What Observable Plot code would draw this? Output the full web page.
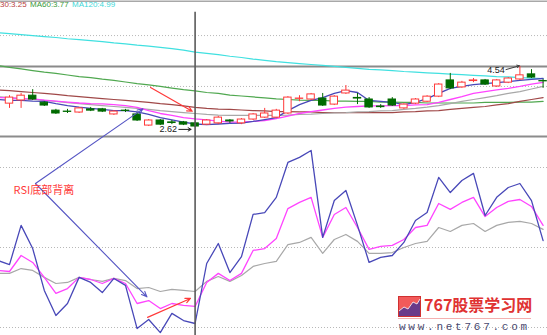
<!DOCTYPE html>
<html><head><meta charset="utf-8">
<script src="https://cdn.jsdelivr.net/npm/d3@7"></script>
<script src="https://cdn.jsdelivr.net/npm/@observablehq/plot@0.6"></script>
<style>
body{margin:0;background:#fff;}
#wrap{position:relative;width:547px;height:335px;overflow:hidden;background:#fff;font-family:"Liberation Sans",Arial,sans-serif;}
#top,#bot{position:absolute;left:0;}
#top{top:0;} #bot{top:137px;}
.lg{position:absolute;top:0px;font-size:8px;line-height:10px;white-space:nowrap;}
.wm{position:absolute;white-space:nowrap;}
</style></head><body>
<div id="wrap">
<div id="top"></div>
<div id="bot"></div>
<span class="lg" style="left:0;color:#b84040">30:3.25</span>
<span class="lg" style="left:30px;color:#3a9a3a">MA60:3.77</span>
<span class="lg" style="left:72px;color:#40d8d8">MA120:4.99</span>
<div class="wm" style="left:398px;top:296px;width:23px;height:21px">
<svg width="23" height="21"><rect x="0.5" y="0.5" width="22" height="20" fill="#f25a5a" stroke="#d03030"/><polygon points="1,20 1,15 6,11 10,13 15,6 19,8 22,3 22,20" fill="#6a3a8a"/><polyline points="1,15 6,11 10,13 15,6 19,8 22,3" fill="none" stroke="#ffffff" stroke-width="0.8"/></svg></div>
<span class="wm" style="left:424px;top:292px;font:bold 16px 'Noto Sans CJK SC','Liberation Serif',serif;color:#e03232">767股票学习网</span>
<div class="wm" style="left:398px;top:318px;width:133px;height:1px;background:#f4b0b0"></div>
<span class="wm" style="left:399px;top:321px;font:11px 'Liberation Mono',monospace;letter-spacing:2.75px;color:#4a4a70">www.net767.com</span>
</div>
<script>
// ---------- data ----------
// candle index 0..46 ; indicator lines index -1..46
const candleOpen  = [3.37,3.47,3.62,3.40,3.15,3.12,3.09,3.19,3.19,3.03,3.15,3.03,2.68,2.84,2.78,2.78,2.75,2.71,2.75,2.84,2.75,2.87,2.93,2.93,3.06,3.52,3.50,3.53,3.34,3.69,3.55,3.50,3.28,3.50,3.22,3.37,3.43,3.59,4.10,3.88,4.08,4.10,3.91,4.03,4.13,4.29,4.08];
const candleHigh  = [3.62,3.69,3.81,3.43,3.19,3.19,3.25,3.25,3.22,3.15,3.19,3.09,2.87,2.87,2.84,2.81,2.78,2.87,2.97,2.87,2.90,3.06,3.22,3.19,3.59,3.62,3.69,3.69,3.62,3.94,3.69,3.56,3.34,3.56,3.37,3.53,3.62,4.00,4.32,4.07,4.16,4.13,4.13,4.19,4.54,4.44,4.13];
const candleLow   = [3.22,3.22,3.47,3.28,3.03,3.06,3.06,3.12,3.09,3.00,3.09,2.81,2.65,2.68,2.71,2.68,2.62,2.68,2.71,2.75,2.71,2.84,2.90,2.90,3.03,3.43,3.47,3.28,3.31,3.66,3.34,3.22,3.22,3.28,3.19,3.34,3.40,3.56,3.81,3.85,4.03,3.94,3.88,4.00,4.10,4.16,3.85];
const candleClose = [3.56,3.62,3.50,3.31,3.06,3.11,3.22,3.15,3.12,3.12,3.14,2.84,2.84,2.71,2.76,2.71,2.65,2.84,2.93,2.81,2.87,3.03,3.06,3.15,3.56,3.53,3.66,3.31,3.59,3.78,3.53,3.25,3.26,3.31,3.34,3.50,3.59,3.97,3.85,4.03,4.10,3.97,4.10,4.16,4.26,4.19,4.07];

const ma5   = [3.50,3.47,3.47,3.45,3.44,3.37,3.31,3.26,3.22,3.19,3.15,3.15,3.11,3.03,2.93,2.86,2.79,2.73,2.71,2.73,2.75,2.76,2.81,2.87,2.93,3.15,3.34,3.47,3.56,3.69,3.78,3.72,3.47,3.44,3.41,3.34,3.41,3.53,3.69,3.85,3.91,3.97,4.00,4.03,4.06,4.10,4.13,4.16];
const ma10  = [3.56,3.55,3.53,3.52,3.48,3.45,3.42,3.39,3.37,3.36,3.34,3.31,3.25,3.15,3.06,3.00,2.93,2.89,2.86,2.82,2.79,2.79,2.81,2.84,2.90,2.98,3.06,3.12,3.17,3.22,3.26,3.28,3.30,3.30,3.31,3.31,3.33,3.34,3.41,3.50,3.59,3.69,3.75,3.80,3.85,3.91,3.98,4.04];
const ma20  = [3.59,3.56,3.53,3.50,3.47,3.44,3.40,3.37,3.34,3.31,3.28,3.25,3.22,3.19,3.15,3.12,3.09,3.06,3.03,3.01,3.00,3.00,3.00,3.00,3.00,3.01,3.03,3.04,3.06,3.08,3.09,3.11,3.12,3.14,3.15,3.19,3.22,3.26,3.31,3.37,3.44,3.50,3.56,3.62,3.69,3.75,3.83,3.91];
const ma30  = [3.80,3.78,3.75,3.72,3.69,3.66,3.62,3.59,3.56,3.53,3.50,3.47,3.44,3.41,3.37,3.34,3.30,3.25,3.22,3.20,3.19,3.17,3.15,3.14,3.12,3.12,3.11,3.11,3.09,3.09,3.09,3.09,3.09,3.09,3.09,3.11,3.12,3.14,3.15,3.19,3.22,3.25,3.28,3.33,3.37,3.44,3.50,3.56];
const ma60  = [4.57,4.51,4.46,4.41,4.36,4.32,4.27,4.22,4.19,4.14,4.10,4.05,4.00,3.96,3.91,3.86,3.81,3.77,3.72,3.69,3.64,3.61,3.58,3.55,3.52,3.50,3.48,3.47,3.47,3.45,3.45,3.44,3.44,3.42,3.42,3.41,3.41,3.39,3.39,3.39,3.39,3.39,3.41,3.41,3.41,3.42,3.42,3.44];
const ma120 = [5.60,5.57,5.54,5.51,5.48,5.45,5.41,5.38,5.35,5.32,5.28,5.25,5.21,5.18,5.14,5.10,5.05,4.99,4.95,4.91,4.86,4.82,4.77,4.73,4.69,4.66,4.63,4.60,4.57,4.54,4.51,4.48,4.45,4.43,4.41,4.38,4.36,4.34,4.32,4.30,4.28,4.26,4.24,4.22,4.21,4.19,4.17,4.16];

const rsi6  = [45.1,43.6,58.3,49.6,33.9,24.5,29.0,38.8,36.9,33.1,38.4,35.8,19.6,23.0,18.1,25.3,22.6,21.5,44.0,51.5,40.6,46.6,62.4,63.1,68.8,81.9,83.8,86.4,53.8,67.6,71.4,58.3,44.4,46.3,47.0,51.9,60.1,63.1,76.3,70.6,75.1,77.8,62.0,68.8,72.5,74.0,67.6,52.6];
const rsi12 = [41.4,41.0,47.0,44.4,38.8,32.8,34.6,38.8,38.0,36.5,38.4,36.5,29.0,30.1,27.1,29.0,28.3,27.9,36.9,40.3,37.6,40.3,48.9,49.6,53.4,64.6,66.9,68.8,53.8,62.4,65.0,57.5,49.3,50.4,50.8,53.0,57.5,58.3,66.5,64.3,66.9,68.8,61.6,65.0,67.3,68.0,65.4,58.3];
const rsi24 = [40.3,40.3,42.1,41.4,38.8,36.5,36.9,38.8,38.0,37.3,38.4,37.6,34.6,35.0,33.5,34.3,33.9,33.5,37.3,39.1,37.3,39.5,42.9,44.0,44.8,51.1,51.9,53.8,47.8,53.0,54.9,52.3,47.8,47.8,48.1,50.0,51.5,52.3,57.5,56.0,58.3,59.0,56.0,58.3,59.4,59.8,59.0,56.8];

const cursorIndex = 16;
const highLine = 4.54;
const priceGrid = [5.51, 3.91];
const rsiGrid = [80, 50, 20];
const lowLabel = "2.62", highLabel = "4.54";
const annotationText = "RSI底部背离";

// ---------- scales ----------
const W = 547, HT = 137, HB = 198;
const xDomain = [-0.776, 46.38];
const priceDomain = [2.305, 6.613];
const rsiDomain = [17.0, 91.25];

const candles = candleOpen.map((o, i) => ({i, open: o, high: candleHigh[i], low: candleLow[i], close: candleClose[i], up: candleClose[i] >= o}));
const lineIdx = d3.range(-1, 47);
const series = (arr, name) => arr.map((v, k) => ({i: lineIdx[k], v, name}));
const RED = "#ff3a3a", GREEN = "#006a00";

const topPlot = Plot.plot({
  width: W, height: HT,
  marginTop: 0, marginBottom: 0, marginLeft: 0, marginRight: 0,
  x: {domain: xDomain, axis: null},
  y: {domain: priceDomain, axis: null},
  style: {background: "white", overflow: "visible"},
  marks: [
    Plot.ruleY(priceGrid, {stroke: "#b8b8b8", strokeDasharray: "1,2"}),
    Plot.ruleY([priceDomain[1]], {stroke: "#a8a8a8", strokeWidth: 1.5, dy: 0.8}),
    Plot.ruleY([priceDomain[0]], {stroke: "#8c8c8c", strokeWidth: 2, dy: -1}),
    Plot.ruleY([highLine], {stroke: "#8a8a8a", strokeWidth: 2}),
    Plot.line(series(ma120), {x: "i", y: "v", stroke: "#40e0e0", strokeWidth: 1.2}),
    Plot.line(series(ma60), {x: "i", y: "v", stroke: "#50a850", strokeWidth: 1.2}),
    Plot.line(series(ma30), {x: "i", y: "v", stroke: "#a04848", strokeWidth: 1.2}),
    Plot.line(series(ma20), {x: "i", y: "v", stroke: "#a8a8a8", strokeWidth: 1.2}),
    Plot.line(series(ma10), {x: "i", y: "v", stroke: "#ff44ff", strokeWidth: 1.3}),
    Plot.line(series(ma5), {x: "i", y: "v", stroke: "#4848b8", strokeWidth: 1.3}),
    Plot.ruleX(candles, {x: "i", y1: "low", y2: "high", stroke: d => d.up ? RED : GREEN, strokeWidth: 1}),
    Plot.rect(candles, {
      x1: d => d.i - 0.32, x2: d => d.i + 0.32,
      y1: d => Math.min(d.open, d.close), y2: d => Math.max(d.open, d.close),
      fill: d => d.up ? "white" : GREEN, stroke: d => d.up ? RED : GREEN, strokeWidth: 1
    }),
    Plot.ruleX([cursorIndex], {y1: priceDomain[0], y2: 6.24, stroke: "#5a5a5a", strokeWidth: 1.6}),
    Plot.arrow([{x1: 12.16, y1: 3.88, x2: 15.75, y2: 3.13}], {x1: "x1", y1: "y1", x2: "x2", y2: "y2", stroke: RED, strokeWidth: 1.2, headLength: 7, headAngle: 50}),
    Plot.arrow([{x1: 14.6, y1: 2.56, x2: 15.65, y2: 2.56}], {x1: "x1", y1: "y1", x2: "x2", y2: "y2", stroke: "#202020", strokeWidth: 1, headLength: 5, headAngle: 60}),
    Plot.text([{i: 14.45, v: 2.56}], {x: "i", y: "v", text: () => lowLabel, textAnchor: "end", fontSize: 9, fill: "#202020", fontFamily: "Liberation Sans"}),
    Plot.arrow([{x1: 42.8, y1: 4.44, x2: 43.95, y2: 4.56}], {x1: "x1", y1: "y1", x2: "x2", y2: "y2", stroke: "#404040", strokeWidth: 1, headLength: 4, headAngle: 60}),
    Plot.text([{i: 42.7, v: 4.41}], {x: "i", y: "v", text: () => highLabel, textAnchor: "end", fontSize: 9, fill: "#202020", fontFamily: "Liberation Sans"})
  ]
});
document.getElementById("top").appendChild(topPlot);

const botPlot = Plot.plot({
  width: W, height: HB,
  marginTop: 0, marginBottom: 0, marginLeft: 0, marginRight: 0,
  x: {domain: xDomain, axis: null},
  y: {domain: rsiDomain, axis: null},
  style: {background: "transparent", overflow: "visible"},
  marks: [
    Plot.ruleY(rsiGrid, {stroke: "#b8b8b8", strokeDasharray: "1,2"}),
    Plot.line(series(rsi24), {x: "i", y: "v", stroke: "#a8a8a8", strokeWidth: 1.2}),
    Plot.line(series(rsi12), {x: "i", y: "v", stroke: "#ff44ff", strokeWidth: 1.3}),
    Plot.line(series(rsi6), {x: "i", y: "v", stroke: "#4848b8", strokeWidth: 1.3}),
    Plot.ruleX([cursorIndex], {stroke: "#5a5a5a", strokeWidth: 1.6}),
    Plot.arrow([
      {x1: 2.24, y1: 74.0, x2: 11.5, y2: 102.0},
      {x1: 2.24, y1: 74.0, x2: 11.85, y2: 31.5}
    ], {x1: "x1", y1: "y1", x2: "x2", y2: "y2", stroke: "#5555c4", strokeWidth: 1.1, headLength: 8, headAngle: 45}),
    Plot.arrow([{x1: 11.9, y1: 23.8, x2: 15.6, y2: 30.9}], {x1: "x1", y1: "y1", x2: "x2", y2: "y2", stroke: RED, strokeWidth: 1.2, headLength: 7, headAngle: 50}),
    Plot.text([{i: 0.35, v: 71.2}], {x: "i", y: "v", text: () => annotationText, textAnchor: "start", fontSize: 11, fill: "#ff3a3a", fontFamily: "Noto Sans CJK SC"})
  ]
});
document.getElementById("bot").appendChild(botPlot);
</script>
</body></html>
